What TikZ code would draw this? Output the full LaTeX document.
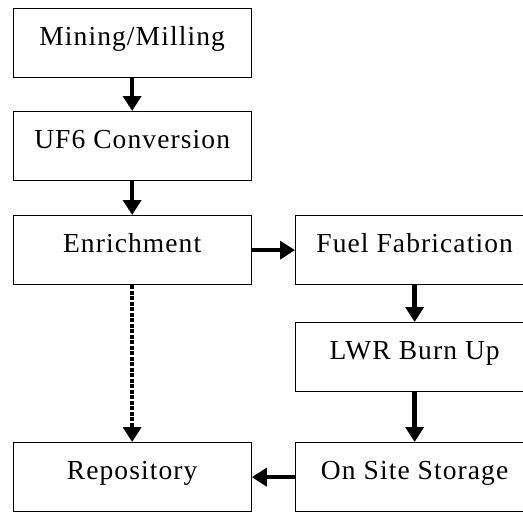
\documentclass[tikz,border=0pt]{standalone}
\usepackage{fontspec}
\setmainfont{Liberation Serif}[LetterSpace=4]
\usetikzlibrary{arrows.meta}

\tikzset{
	stage/.style={draw, line width=1.3pt, anchor=north west, inner sep=0pt,
		minimum width=238pt, text height=37pt, text depth=32pt},
	flow/.style={->, line width=4.5pt},
}

\begin{document}
\begin{tikzpicture}[x=1pt, y=-1pt, >={Triangle[width=18pt, length=15pt]}, font=\fontsize{27.5}{30}\selectfont]
	\clip (0, 0) rectangle (523, 512);
	% left column
	\node[stage] (mill) at (12.5, 8) {Mining/Milling};
	\node[stage] (conv) at (12.5, 111) {UF6 Conversion};
	\node[stage] (enrich) at (12.5, 215) {Enrichment};
	\node[stage] (repo) at (12.5, 442) {Repository};
	% right column
	\node[stage] (fab) at (295, 215) {Fuel Fabrication};
	\node[stage] (burn) at (295, 322) {LWR Burn Up};
	\node[stage] (store) at (295, 442) {On Site Storage};
	% flows
	\draw[flow] (mill) -- (conv);
	\draw[flow] (conv) -- (enrich);
	\draw[flow] (enrich) -- (fab);
	\draw[flow] (fab) -- (burn);
	\draw[flow] (burn) -- (store);
	\draw[flow] (store) -- (repo);
	\draw[flow, line width=4pt, dash pattern=on 4pt off 1.5pt] (enrich) -- (repo);
\end{tikzpicture}
\end{document}
